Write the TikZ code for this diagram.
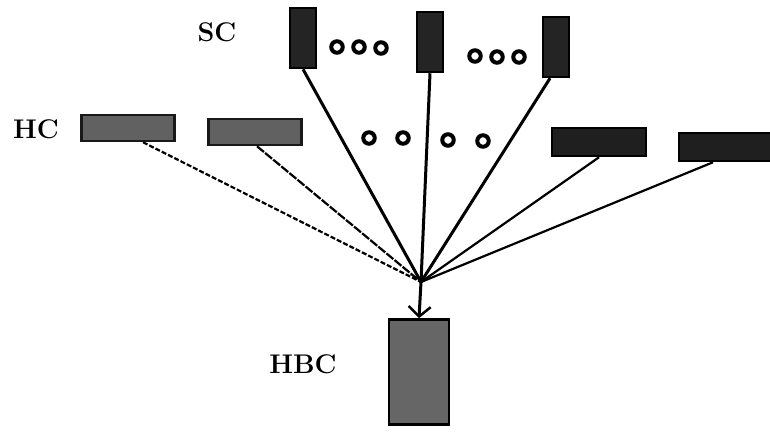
\documentclass[tikz,border=0pt]{standalone}
\usepackage{xcolor}
\usepackage{tikz}
\usetikzlibrary{arrows.meta, calc}

\begin{document}
\begin{tikzpicture}[x=1pt, y=-1pt, >={Straight Barb[length=10pt,width=22pt,line width=2.5pt]}]
    % Styles
    \tikzstyle{label} = [font=\fontsize{27}{32}\selectfont\bfseries]
    \tikzstyle{scbox} = [rectangle, draw=black, line width=2.5pt, fill=black!86, minimum width=26pt, minimum height=60pt, inner sep=0pt]
    \tikzstyle{hcbox} = [rectangle, draw=black!90, line width=2.5pt, fill=black!62, minimum width=93pt, minimum height=26pt, inner sep=0pt]
    \tikzstyle{hcdark} = [rectangle, draw=black, line width=2.5pt, fill=black!88, minimum width=94pt, minimum height=28pt, inner sep=0pt]
    \tikzstyle{hbcbox} = [rectangle, draw=black, line width=2.5pt, fill=black!60, minimum width=60pt, minimum height=105pt, inner sep=0pt]
    \tikzstyle{ring} = [circle, draw=black, line width=4pt, minimum size=11.5pt, inner sep=0pt]
    \tikzstyle{line} = [draw, line width=3pt]
    \tikzstyle{thin} = [draw, line width=2.2pt]

    \useasboundingbox (0,0) rectangle (770,431);

    % Labels
    \node [label] (sclabel) at (217,32) {SC};
    \node [label] (hclabel) at (36,129) {HC};
    \node [label] (hbclabel) at (303,364) {HBC};

    % SC row
    \node [scbox] (sc1) at (303,38) {};
    \node [scbox] (sc2) at (430,42) {};
    \node [scbox] (sc3) at (556,47) {};
    \foreach \x/\y [count=\i] in {337/47, 359/47, 381/48, 475/56, 497/57, 519/57}
        \node [ring] (scdot\i) at (\x,\y) {};

    % HC row
    \node [hcbox] (hc1) at (128,128) {};
    \node [hcbox] (hc2) at (255,132) {};
    \node [hcdark] (hc3) at (599,142) {};
    \node [hcdark] (hc4) at (726,147) {};
    \foreach \x/\y [count=\i] in {369/138, 403/138, 448/140, 483/141}
        \node [ring] (hcdot\i) at (\x,\y) {};

    % HBC
    \node [hbcbox] (hbc) at (419,372) {};
    \coordinate (hub) at (421,282);

    % Edges
    \draw [line] (sc1.south) -- (hub);
    \draw [line] (sc2.south) -- (hub);
    \draw [line] ([xshift=-6]sc3.south) -- (hub);
    \draw [thin, dash pattern=on 5pt off 2pt] ([xshift=15]hc1.south) -- (hub);
    \draw [thin, dash pattern=on 9pt off 1.5pt] ([xshift=2]hc2.south) -- (hub);
    \draw [thin] (hc3.south) -- (hub);
    \draw [thin] ([xshift=-13]hc4.south) -- (hub);
    \draw [line, ->] (hub) -- (hbc.north);
\end{tikzpicture}
\end{document}
